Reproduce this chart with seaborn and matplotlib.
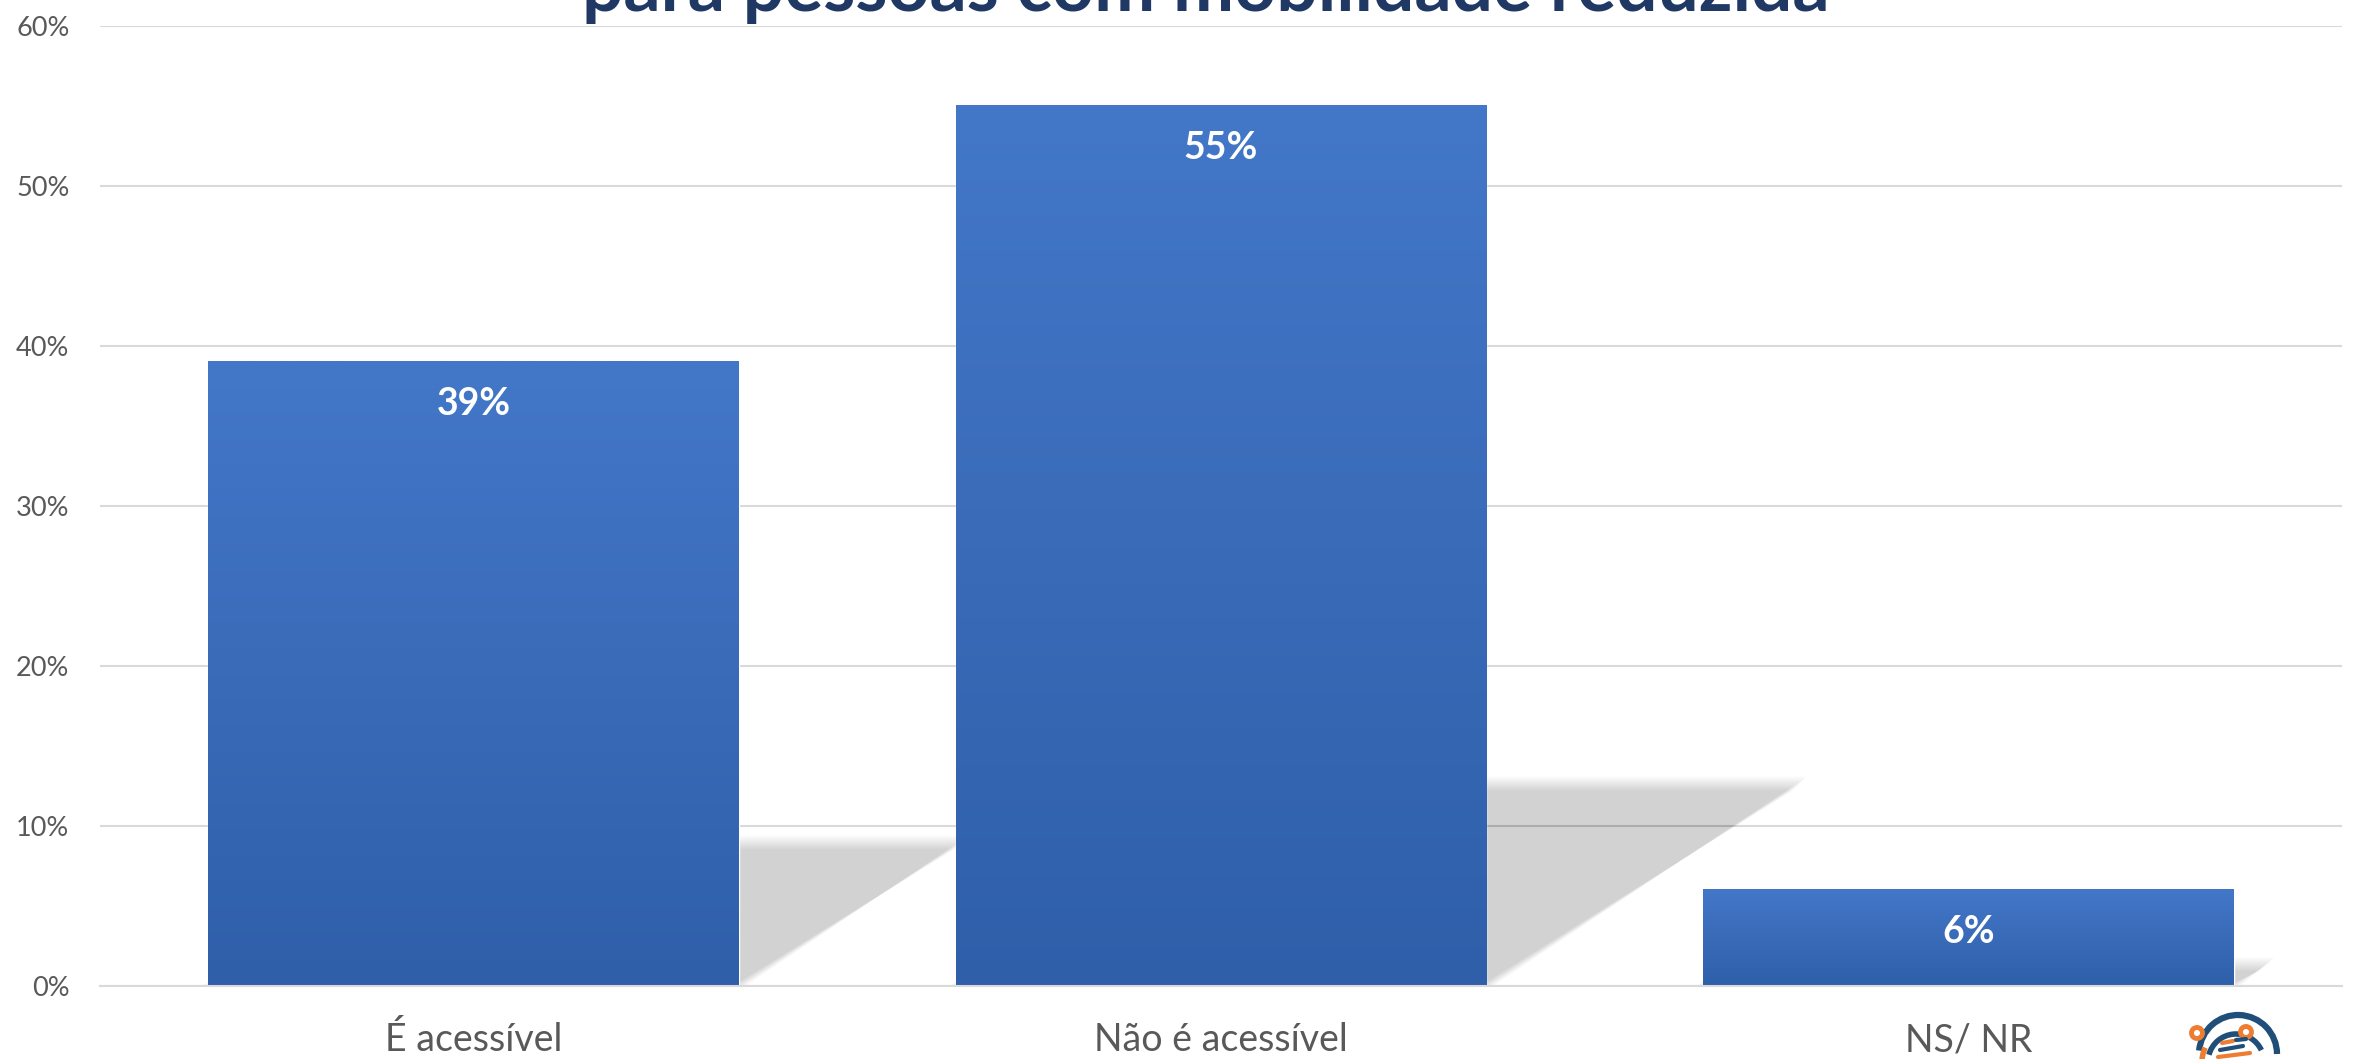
import numpy as np
import pandas as pd
import seaborn as sns
import matplotlib.pyplot as plt
from matplotlib.patches import Polygon, Arc, Circle
from matplotlib.colors import LinearSegmentedColormap

# Data
categories = ["É acessível", "Não é acessível", "NS/ NR"]
values = [39, 55, 6]
value_labels = ["39%", "55%", "6%"]
y_ticks = [0, 10, 20, 30, 40, 50, 60]
title_line = "para pessoas com mobilidade reduzida"

df = pd.DataFrame({"cat": categories, "val": values})

sns.set_style("white")
plt.rcParams['font.family'] = ['Lato', 'DejaVu Sans']

W, H = 2356, 1059
fig = plt.figure(figsize=(W / 100, H / 100), dpi=100)
ax = fig.add_axes([100 / W, 1 - 986 / H, (2342 - 100) / W, (986 - 25.5) / H])

sns.barplot(data=df, x="cat", y="val", color="#3b6cbb", width=0.71, ax=ax,
            saturation=1, zorder=3)
ax.set_xlim(-0.5, 2.5)
ax.set_ylim(0, 60)

# gradient fill on each bar
cmap = LinearSegmentedColormap.from_list("bar", ["#2f5fa9", "#4377c8"])
grad = np.linspace(0, 1, 256).reshape(-1, 1)
for p in ax.patches:
    x0, w, h = p.get_x(), p.get_width(), p.get_height()
    ax.imshow(grad, extent=[x0, x0 + w, 0, h], origin="lower", aspect="auto",
              cmap=cmap, zorder=4)
ax.set_xlim(-0.5, 2.5)
ax.set_ylim(0, 60)

# soft perspective shadow behind each bar
px_x = (2342 - 100) / 3.0     # pixels per category unit
px_y = (986 - 25.5) / 60.0    # pixels per percent
bars = list(ax.patches)
for p in bars:
    x0, w, h = p.get_x(), p.get_width(), p.get_height()
    hs = h * 0.23
    s = hs * px_y * 1.55 / px_x
    for g in range(7, -8, -1):
        gx, gy = g / px_x, g / px_y
        pts = [(x0 - gx, 0), (x0 + w + gx, 0), (x0 + w + s + gx, hs + gy),
               (x0 + s - gx, hs + gy)]
        ax.add_patch(Polygon(pts, closed=True, facecolor="black", alpha=0.0125,
                             edgecolor="none", zorder=2))

# value labels
for p, lab in zip(bars, value_labels):
    cx = p.get_x() + p.get_width() / 2
    ax.annotate(lab, (cx, p.get_height()), xytext=(0, -42), textcoords="offset pixels",
                ha="center", va="center", color="white", fontsize=27,
                fontweight="bold", zorder=6)

# axes styling
ax.set_yticks(y_ticks)
ax.set_yticklabels([f"{t}%" for t in y_ticks])
ax.yaxis.grid(True, color="#d9d9d9", linewidth=1.5, zorder=0)
ax.set_axisbelow(True)
for side in ["top", "right", "left"]:
    ax.spines[side].set_visible(False)
ax.spines["bottom"].set_color("#d9d9d9")
ax.spines["bottom"].set_linewidth(1.5)
ax.spines["bottom"].set_zorder(5)
ax.tick_params(axis="y", length=0, pad=22, labelsize=19.5, labelcolor="#595959")
ax.tick_params(axis="x", length=0, pad=26, labelsize=27, labelcolor="#595959")
ax.set_xlabel("")
ax.set_ylabel("")

# title (second line, cut off at the top)
fig.text(1206 / W, 1 - 11 / H, title_line, ha="center", va="baseline",
         fontsize=52.7, fontweight="bold", color="#203864")

# small logo, bottom right
lax = fig.add_axes([0, 0, 1, 1], facecolor="none")
lax.set_xlim(0, W)
lax.set_ylim(H, 0)
lax.axis("off")
navy, orange = "#1f4e79", "#ed7d31"
lax.add_patch(Arc((2238, 1054), 78, 78, theta1=185, theta2=360, color=navy, lw=4.5))
lax.add_patch(Arc((2236, 1062), 56, 56, theta1=195, theta2=335, color=navy, lw=4))
lax.add_patch(Arc((2236, 1062), 68, 68, theta1=150, theta2=205, color=orange, lw=4))
for cx, cy in [(2197, 1033), (2246, 1032)]:
    lax.add_patch(Circle((cx, cy), 5.5, facecolor="white", edgecolor=orange, lw=3.5))
for (x1, y1, x2, y2, c) in [(2222, 1043, 2233, 1041, orange), (2236, 1040, 2246, 1039, navy),
                            (2220, 1050, 2243, 1046, navy), (2218, 1057, 2250, 1053, orange)]:
    lax.plot([x1, x2], [y1, y2], color=c, lw=3, solid_capstyle="round")

fig.savefig("out.png", dpi=100)
